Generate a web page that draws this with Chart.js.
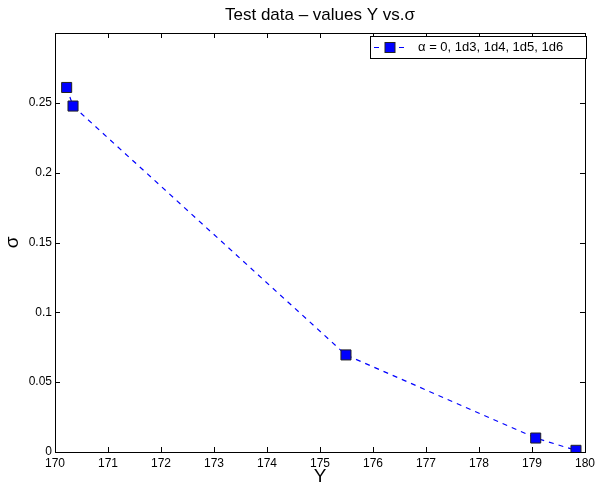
<!DOCTYPE html>
<html>
<head>
<meta charset="utf-8">
<script src="https://cdn.jsdelivr.net/npm/chart.js@4"></script>
<style>
  html, body { margin: 0; padding: 0; background: #fff; }
  #wrap { width: 599px; height: 486px; }
</style>
</head>
<body>
<div id="wrap"><canvas id="chart" width="599" height="486"></canvas></div>
<script>
// values
var yValues = [170.22, 170.34, 175.49, 179.07, 179.83];
var sigmaValues = [0.261, 0.2477, 0.0695, 0.010, 0.0012];
var xTicks = [170, 171, 172, 173, 174, 175, 176, 177, 178, 179, 180];
var yTicks = [0, 0.05, 0.1, 0.15, 0.2, 0.25];
var seriesLabel = 'α = 0, 1d3, 1d4, 1d5, 1d6';
var titleText = 'Test data – values Y vs.σ';

var points = yValues.map(function(v, i) { return {x: v, y: sigmaValues[i]}; });

// box, inward ticks, title, axis labels and legend, matlab style
var matlabFrame = {
    id: 'matlabFrame',
    afterDraw: function(chart) {
        var ctx = chart.ctx;
        var a = chart.chartArea;
        var xs = chart.scales.x, ys = chart.scales.y;
        ctx.save();
        ctx.strokeStyle = '#000';
        ctx.lineWidth = 1;
        ctx.strokeRect(Math.round(a.left) + 0.5, Math.round(a.top) + 0.5,
            Math.round(a.right - a.left), Math.round(a.bottom - a.top));
        ctx.beginPath();
        xTicks.forEach(function(t) {
            var px = Math.round(xs.getPixelForValue(t)) + 0.5;
            ctx.moveTo(px, a.bottom); ctx.lineTo(px, a.bottom - 5);
            ctx.moveTo(px, a.top); ctx.lineTo(px, a.top + 5);
        });
        yTicks.forEach(function(t) {
            var py = Math.round(ys.getPixelForValue(t)) + 0.5;
            ctx.moveTo(a.left, py); ctx.lineTo(a.left + 5, py);
            ctx.moveTo(a.right, py); ctx.lineTo(a.right - 5, py);
        });
        ctx.stroke();

        ctx.fillStyle = '#000';
        ctx.textAlign = 'center';
        ctx.textBaseline = 'alphabetic';
        ctx.font = '17px "Liberation Sans", Arial, sans-serif';
        ctx.fillText(titleText, (a.left + a.right) / 2, 20);
        ctx.font = '19px "Liberation Sans", Arial, sans-serif';
        ctx.fillText('Y', (a.left + a.right) / 2, 482);
        ctx.save();
        ctx.translate(17.5, (a.top + a.bottom) / 2);
        ctx.rotate(-Math.PI / 2);
        ctx.fillText('σ', 0, 0);
        ctx.restore();

        // legend
        var lx = 370, ly = 36, lw = 216, lh = 22;
        ctx.fillStyle = '#fff';
        ctx.fillRect(lx, ly, lw, lh);
        ctx.strokeRect(lx + 0.5, ly + 0.5, lw, lh);
        var cy = ly + lh / 2 + 0.5;
        ctx.strokeStyle = '#0000ff';
        ctx.beginPath();
        ctx.moveTo(374, cy); ctx.lineTo(379, cy);
        ctx.moveTo(399, cy); ctx.lineTo(404, cy);
        ctx.stroke();
        ctx.fillStyle = '#0000ff';
        ctx.strokeStyle = '#222';
        ctx.fillRect(385, cy - 5, 10, 10);
        ctx.strokeRect(385, cy - 5, 10, 10);
        ctx.fillStyle = '#000';
        ctx.textAlign = 'left';
        ctx.textBaseline = 'middle';
        ctx.font = '13px "Liberation Sans", Arial, sans-serif';
        ctx.fillText(seriesLabel, 418, cy);
        ctx.restore();
    }
};

new Chart(document.getElementById('chart').getContext('2d'), {
    type: 'scatter',
    data: {
        datasets: [{
            label: seriesLabel,
            data: points,
            showLine: true,
            borderColor: '#0000ff',
            borderWidth: 1.2,
            borderDash: [5, 5],
            pointStyle: 'rect',
            pointRadius: 7.1,
            pointHoverRadius: 7.1,
            pointBackgroundColor: '#0000ff',
            pointBorderColor: '#222',
            pointBorderWidth: 1
        }]
    },
    plugins: [matlabFrame],
    options: {
        responsive: false,
        animation: false,
        layout: {padding: {top: 33, right: 12, left: 0, bottom: 0}},
        plugins: {legend: {display: false}, title: {display: false}, tooltip: {enabled: false}},
        scales: {
            x: {
                type: 'linear',
                min: 170, max: 180,
                afterFit: function(s) { s.height = 34; },
                afterBuildTicks: function(s) { s.ticks = xTicks.map(function(v) { return {value: v}; }); },
                grid: {display: false, drawTicks: false},
                border: {display: false},
                ticks: {padding: 4, color: '#000', font: {family: '"Liberation Sans", Arial', size: 12},
                    maxRotation: 0, autoSkip: false}
            },
            y: {
                type: 'linear',
                min: 0, max: 0.3,
                afterFit: function(s) { s.width = 55; },
                afterBuildTicks: function(s) { s.ticks = yTicks.map(function(v) { return {value: v}; }); },
                grid: {display: false, drawTicks: false},
                border: {display: false},
                ticks: {padding: 3, color: '#000', font: {family: '"Liberation Sans", Arial', size: 12},
                    autoSkip: false, callback: function(v) { return String(v); }}
            }
        }
    }
});
</script>
</body>
</html>
